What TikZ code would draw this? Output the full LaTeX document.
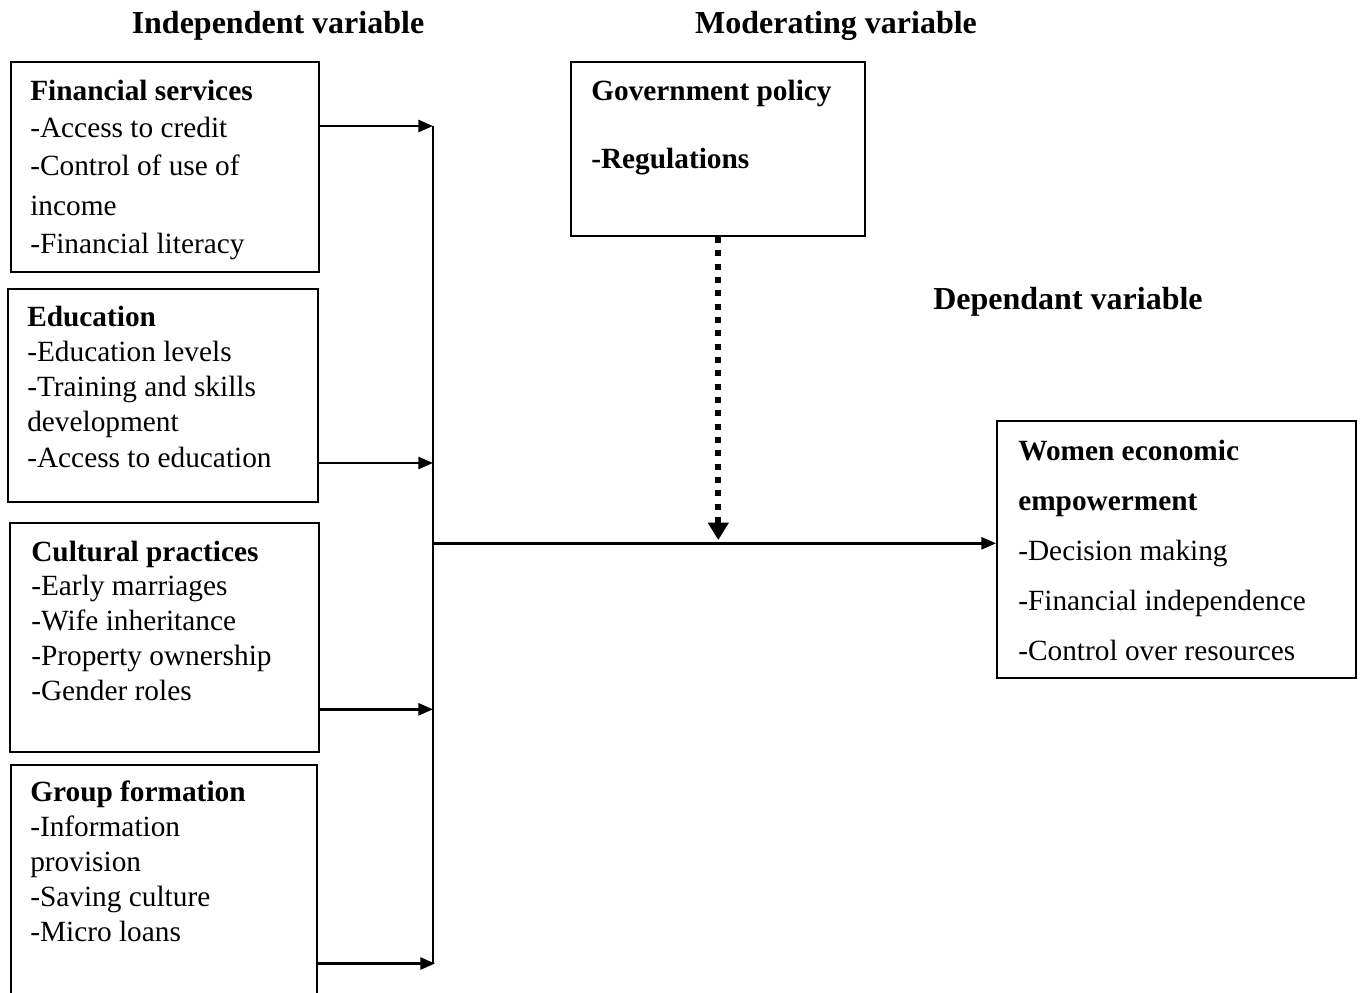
\documentclass[tikz,border=0pt]{standalone}
\usepackage{fontspec}
\setmainfont{Liberation Serif}
\usetikzlibrary{arrows.meta}
\begin{document}
\begin{tikzpicture}[x=0.75pt,y=-0.75pt,
  box/.style={draw,line width=1.4pt,inner sep=0pt,anchor=north west},
  txt/.style={anchor=base west,inner sep=0pt,font=\fontsize{22}{26}\selectfont},
  btxt/.style={anchor=base west,inner sep=0pt,font=\fontsize{22}{26}\selectfont\bfseries},
  ttl/.style={anchor=base,inner sep=0pt,font=\fontsize{24}{28}\selectfont\bfseries},
  arr/.style={line width=2pt,-{Triangle[length=11pt,width=9pt]}},
  ln/.style={line width=1.6pt},
  dotarr/.style={line width=4.5pt,dash pattern=on 4.5pt off 5.5pt,-{Triangle[length=13pt,width=15pt]}}]
\useasboundingbox (0,0) rectangle (1362,992);
\clip (0,0) rectangle (1362,992);

% titles
\node[ttl] (tind) at (278,33) {Independent variable};
\node[ttl] (tmod) at (836,33) {Moderating variable};
\node[ttl] (tdep) at (1068,309) {Dependant variable};

% boxes
\node[box,minimum width=308*0.75pt,minimum height=210*0.75pt] (fin) at (10,61) {};
\node[box,minimum width=310*0.75pt,minimum height=213*0.75pt] (edu) at (7,288) {};
\node[box,minimum width=309*0.75pt,minimum height=229*0.75pt] (cul) at (9,522) {};
\node[box,minimum width=306*0.75pt,minimum height=250*0.75pt] (grp) at (10,764) {};
\node[box,minimum width=294*0.75pt,minimum height=174*0.75pt] (gov) at (570,61) {};
\node[box,minimum width=359*0.75pt,minimum height=257*0.75pt] (wee) at (996,420) {};

% Financial services
\node[btxt] (finh) at (30,100) {Financial services};
\foreach \y/\t [count=\i] in {137.5/-Access to credit,175.5/-Control of use of,215.5/income,253.5/-Financial literacy}
  \node[txt,name=fin\i] at (30,\y) {\t};

% Education
\node[btxt] (eduh) at (27,326.7) {Education};
\foreach \y/\t [count=\i] in {361.7/-Education levels,396.7/-Training and skills,431.7/development,467.7/-Access to education}
  \node[txt,name=edu\i] at (27,\y) {\t};

% Cultural practices
\node[btxt] (culh) at (31,561.5) {Cultural practices};
\foreach \y/\t [count=\i] in {595.5/-Early marriages,630.5/-Wife inheritance,665.5/-Property ownership,700.5/-Gender roles}
  \node[txt,name=cul\i] at (31,\y) {\t};

% Group formation
\node[btxt] (grph) at (30,801.7) {Group formation};
\foreach \y/\t [count=\i] in {836.7/-Information,871.7/provision,906.7/-Saving culture,941.7/-Micro loans}
  \node[txt,name=grp\i] at (30,\y) {\t};

% Government policy
\node[btxt] (govh) at (591,100) {Government policy};
\node[btxt] (gov1) at (591,168) {-Regulations};

% Women economic empowerment
\node[btxt] (weeh1) at (1018,460) {Women economic};
\node[btxt] (weeh2) at (1018,510) {empowerment};
\foreach \y/\t [count=\i] in {560/-Decision making,610/-Financial independence,660.5/-Control over resources}
  \node[txt,name=wee\i] at (1018,\y) {\t};

% connectors
\coordinate (b1) at (433,126);
\coordinate (b2) at (433,463);
\coordinate (b3) at (433,709.3);
\coordinate (b4) at (435,963.5);
\coordinate (bm) at (433,543.3);
\coordinate (dm) at (718.3,540);

\draw[ln] (433,126) -- (433,963.5);
\draw[arr] (fin.east |- b1) -- (b1);
\draw[arr] (edu.east |- b2) -- (b2);
\draw[arr] (cul.east |- b3) -- (b3);
\draw[arr] (grp.east |- b4) -- (b4);
\draw[arr] (bm) -- (wee.west |- bm);
\draw[dotarr] (gov.south -| dm) -- (dm);
\end{tikzpicture}
\end{document}
